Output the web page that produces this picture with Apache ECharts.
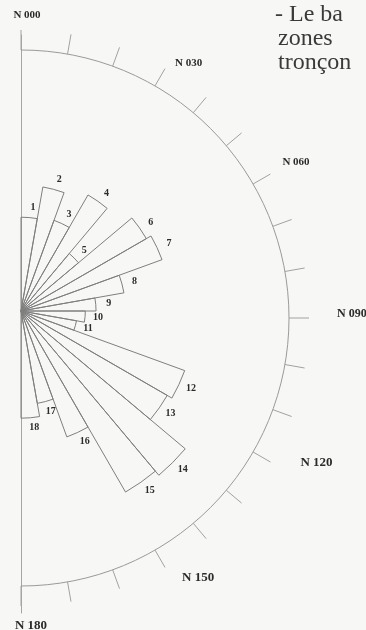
<!DOCTYPE html>
<html>
<head>
<meta charset="utf-8">
<script src="https://cdn.jsdelivr.net/npm/echarts@6/dist/echarts.min.js"></script>
<style>
  html, body { margin: 0; padding: 0; background: #f7f7f5; }
  #chart { width: 366px; height: 630px; }
</style>
</head>
<body>
<div id="chart"></div>
<script>
// Azimuth classes of 10 degrees, N000 to N180, numbered 1..18
const classes = ['1', '2', '3', '4', '5', '6', '7', '8', '9',
                 '10', '11', '12', '13', '14', '15', '16', '17', '18'];
// Relative length of each petal (outer circle = 100)
const petalLengths = [35, 47, 36, 50, 28, 54, 56, 39, 28, 24, 21, 65, 63, 80, 78, 50, 35, 40];
// Bearing labels every 30 degrees
const bearingValues = [0, 30, 60, 90, 120, 150, 180];
const bearingLabels = ['N 000', 'N 030', 'N 060', 'N 090', 'N 120', 'N 150', 'N 180'];
// Heading lines of the text block
const textLines = ['- Le ba', 'zones', 'tronçon'];

const serif = '"Liberation Serif", "DejaVu Serif", serif';
const ink = '#2b2b2b';
const lineGrey = '#9a9a9a';

const chart = echarts.init(document.getElementById('chart'), null, { renderer: 'canvas' });

// Rich style per bearing label (30..150); 0 and 180 sit at the meridian ends
const bearingStyle = { 30: 'a', 60: 'b', 90: 'c', 120: 'd', 150: 'e' };
function bearingText(v) {
  const s = bearingStyle[v];
  if (!s) return '';
  return '{' + s + '|' + bearingLabels[bearingValues.indexOf(v)] + '}';
}

const option = {
  backgroundColor: '#f7f7f5',
  animation: false,
  polar: [
    { center: [21, 311], radius: [0, 268] },   // petals
    { center: [21, 318], radius: [0, 268] },   // bearing scale (half circle)
    { center: [21, 311], radius: [0, 276] },   // meridian, north half
    { center: [21, 311], radius: [0, 302] }    // meridian, south half
  ],
  angleAxis: [
    {
      polarIndex: 0, type: 'category', data: classes,
      startAngle: 90, endAngle: -90, clockwise: true,
      axisLine: { show: false }, axisTick: { show: false },
      axisLabel: { show: false }, splitLine: { show: false }
    },
    {
      polarIndex: 1, type: 'value', min: 0, max: 180, interval: 10,
      startAngle: 90, endAngle: -90, clockwise: true,
      axisLine: { show: true, lineStyle: { color: lineGrey, width: 1 } },
      axisTick: { show: true, inside: false, length: 20, lineStyle: { color: '#a2a2a2', width: 1 } },
      axisLabel: {
        show: true, margin: 20, formatter: bearingText,
        fontFamily: serif, color: ink, fontWeight: 'bold',
        rich: {
          a: { fontFamily: serif, fontSize: 11, fontWeight: 'bold', color: ink, padding: [0, 0, 0, 10] },
          b: { fontFamily: serif, fontSize: 11, fontWeight: 'bold', color: ink, padding: [0, 0, 6, 12] },
          c: { fontFamily: serif, fontSize: 12, color: ink, padding: [0, 0, 8, 28] },
          d: { fontFamily: serif, fontSize: 13, fontWeight: 'bold', color: ink, lineHeight: 2, padding: [0, 0, 0, 30] },
          e: { fontFamily: serif, fontSize: 13, fontWeight: 'bold', color: ink, padding: [4, 0, 0, 17] }
        }
      },
      splitLine: { show: false }
    },
    {
      polarIndex: 2, type: 'value', min: 0, max: 360,
      startAngle: 90, show: false
    },
    {
      polarIndex: 3, type: 'value', min: 0, max: 360,
      startAngle: -90, show: false
    }
  ],
  radiusAxis: [
    { polarIndex: 0, type: 'value', min: 0, max: 100, show: false },
    { polarIndex: 1, type: 'value', min: 0, max: 100, show: false },
    {
      polarIndex: 2, type: 'value', min: 0, max: 1,
      axisLine: { show: true, lineStyle: { color: '#a5a5a5', width: 1 } },
      axisTick: { show: false }, axisLabel: { show: false }, splitLine: { show: false },
      name: bearingLabels[0], nameLocation: 'end', nameGap: 14,
      nameTextStyle: { fontFamily: serif, fontSize: 11, fontWeight: 'bold', color: ink, padding: [0, 0, 0, 12] }
    },
    {
      polarIndex: 3, type: 'value', min: 0, max: 1,
      axisLine: { show: true, lineStyle: { color: '#a5a5a5', width: 1 } },
      axisTick: { show: false }, axisLabel: { show: false }, splitLine: { show: false },
      name: bearingLabels[6], nameLocation: 'end', nameGap: 6,
      nameTextStyle: { fontFamily: serif, fontSize: 13, fontWeight: 'bold', color: ink, padding: [0, 0, 0, 20] }
    }
  ],
  series: [
    {
      type: 'bar', coordinateSystem: 'polar', polarIndex: 0,
      data: petalLengths,
      barCategoryGap: '0%',
      itemStyle: { color: 'rgba(0,0,0,0)', borderColor: '#7f7f7f', borderWidth: 1 },
      label: {
        show: true, position: 'end', distance: 10, rotate: 0, offset: [3, 5],
        formatter: '{b}',
        fontFamily: serif, fontSize: 10, fontWeight: 'bold', color: ink
      }
    }
  ],
  graphic: textLines.map(function (t, i) {
    return {
      type: 'text', left: i === 0 ? 275 : 278, top: 3 + i * 24,
      style: {
        text: t, font: '24px ' + serif, fill: '#3a3a3a'
      }
    };
  })
};

chart.setOption(option);
</script>
</body>
</html>
